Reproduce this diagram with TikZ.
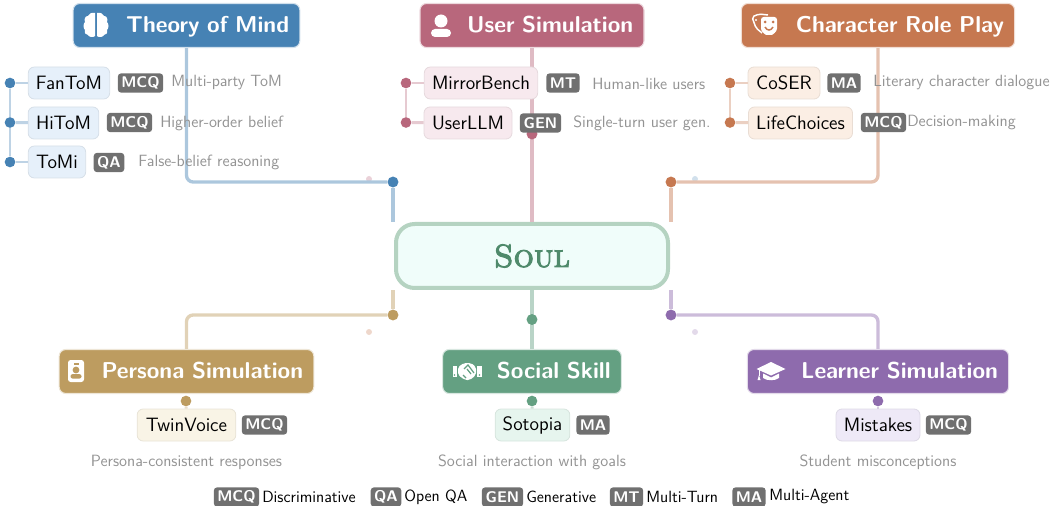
\documentclass[tikz,border=0pt]{standalone}
\usepackage{fontspec}
\usetikzlibrary{positioning}
\renewcommand{\familydefault}{\sfdefault}
\newfontfamily\soulfont[FakeBold=3]{Latin Modern Roman Caps}
\definecolor{tomblue}{RGB}{70,130,180}
\definecolor{userrose}{RGB}{184,103,124}
\definecolor{charclay}{RGB}{198,120,80}
\definecolor{personatan}{RGB}{189,156,96}
\definecolor{socialgreen}{RGB}{100,160,130}
\definecolor{learnerplum}{RGB}{142,107,173}
\definecolor{tomtint}{RGB}{230,240,250}
\definecolor{usertint}{RGB}{247,233,238}
\definecolor{chartint}{RGB}{251,238,228}
\definecolor{personatint}{RGB}{249,244,230}
\definecolor{socialtint}{RGB}{230,245,238}
\definecolor{learnertint}{RGB}{238,233,247}
\definecolor{soulring}{RGB}{181,211,193}
\definecolor{soulfill}{RGB}{240,253,250}
\definecolor{soulink}{RGB}{79,138,107}
\definecolor{tagbg}{RGB}{112,112,112}

\tikzset{
    brainhalf/.pic={
        \fill[white] (-1,-12) .. controls (-5,-13) and (-7,-11) .. (-8,-9) .. controls (-11,-9) and (-12,-6) .. (-11,-3) .. controls (-13,-1) and (-13,3) .. (-11,5) .. controls (-12,8) and (-10,10) .. (-8,10) .. controls (-7,12) and (-3,13) .. (-1,11) -- cycle;
    },
    usericon/.pic={
        \fill[white] (0,-5) circle[radius=6.5];
        \fill[white, rounded corners=3pt] (-10,11) -- (-10,3) -- (10,3) -- (10,11) -- cycle;
    },
    maskicon/.pic={
        \draw[white, line width=1.1pt, rounded corners=1.5pt] (-3,9) -- (-9,4) -- (-13,-7) -- (-6,-10) -- (3,-9);
        \fill[white] (-9,-4) circle[radius=1.2];
        \fill[white, rounded corners=2pt] (-4,-7) -- (12,-7) -- (12,2) .. controls (12,8) and (7,11) .. (4,11) .. controls (1,11) and (-4,8) .. (-4,2) -- cycle;
        \fill[charclay] (0,-2) circle[radius=1.5] (8,-2) circle[radius=1.5];
        \draw[charclay, line width=1.1pt] (0,3) .. controls (2,7) and (6,7) .. (8,3);
    },
    badgeicon/.pic={
        \fill[white, rounded corners=2pt] (-8,-11) rectangle (8,11);
        \fill[personatan] (-2.5,-8.5) rectangle (2.5,-6.5);
        \fill[personatan] (0,-1) circle[radius=3.4];
        \fill[personatan, rounded corners=1.5pt] (-5.5,7.5) -- (-5.5,3.2) -- (5.5,3.2) -- (5.5,7.5) -- cycle;
    },
    shakeicon/.pic={
        \fill[white] (-14.5,-6) rectangle (-10.5,5);
        \fill[white] (10,-6) rectangle (14.5,5);
        \fill[white, rounded corners=1.5pt] (-9,-5) -- (-3,-9) -- (4,-9) -- (9,-5) -- (9,3) -- (3,8) -- (-2,8) -- (-9,3) -- cycle;
        \draw[socialgreen, line width=0.9pt] (-3,-3) -- (1,-7) -- (7,1) (0,-3) -- (4,2) (-4,3) -- (-1,6);
        \fill[socialgreen] (-12.5,3) circle[radius=0.8] (12.5,3) circle[radius=0.8];
    },
    capicon/.pic={
        \fill[white] (-14.5,-3) -- (0,-10) -- (14.5,-3) -- (0,3.5) -- cycle;
        \fill[white] (-8,1.5) -- (0,5.5) -- (8,1.5) -- (8,6) .. controls (4,9) and (-4,9) .. (-8,6) -- cycle;
        \fill[white] (-12.5,-2) rectangle (-11.5,4);
        \fill[white] (-13.5,8) -- (-12,3) -- (-10.5,8) -- cycle;
    }
}

\begin{document}
\begin{tikzpicture}[x=0.75pt, y=-0.75pt,
        head/.style={rectangle, rounded corners=5pt, draw=#1!25, line width=0.8pt, fill=#1, text=white, minimum height=33pt, inner xsep=8pt, align=right, text height=13pt, text depth=2pt, font=\fontsize{17.2}{20}\selectfont\bfseries},
        item/.style={rectangle, rounded corners=4.5pt, draw=#1!93!black, line width=0.6pt, fill=#1, text=black, minimum height=24pt, inner xsep=0pt, font=\fontsize{14.5}{17}\selectfont},
        tag/.style={rectangle, rounded corners=2.5pt, fill=tagbg, text=white, minimum height=14.5pt, inner xsep=0pt, inner ysep=0pt, font=\fontsize{11.6}{13}\selectfont\bfseries},
        note/.style={text=gray!85, inner sep=0pt, font=\fontsize{12.2}{14}\selectfont},
        legend/.style={text=black, inner sep=0pt, font=\fontsize{12.2}{14}\selectfont},
        link/.style={draw=#1!45, line width=2.5pt, rounded corners=5pt},
        twig/.style={draw=#1!35, line width=2.2pt},
        hub/.style={circle, fill=#1, inner sep=0pt, minimum size=8.2pt},
        knob/.style={circle, fill=#1, inner sep=0pt, minimum size=8pt},
        spark/.style={circle, fill=#1, inner sep=0pt, minimum size=4.5pt}
    ]
    \useasboundingbox (0,0) rectangle (1054,506);

    % centre
    \node[rectangle, rounded corners=14pt, draw=soulring, line width=3pt, fill=soulfill, text=soulink, minimum width=204pt, minimum height=48pt, font=\soulfont\fontsize{24}{28}\selectfont] (soul) at (532,256) {Soul};

    % headers
    \node[head=tomblue, text width=154pt] (tom) at (186.5,25.5) {Theory of Mind};
    \node[head=userrose, text width=152pt] (user) at (532,25.5) {User Simulation};
    \node[head=charclay, text width=189pt] (char) at (878,25.5) {Character Role Play};
    \node[head=personatan, text width=175pt] (persona) at (186.5,371.5) {Persona Simulation};
    \node[head=socialgreen, text width=118pt] (social) at (532,371.5) {Social Skill};
    \node[head=learnerplum, text width=180pt] (learner) at (878,371.5) {Learner Simulation};

    \pic at (96,25) {brainhalf};
    \pic[xscale=-1] at (96,25) {brainhalf};
    \pic at (441,26) {usericon};
    \pic at (765,24) {maskicon};
    \pic at (76,371) {badgeicon};
    \pic at (467,372) {shakeicon};
    \pic at (771,372) {capicon};

    % hubs and main links
    \node[hub=tomblue] (tomhub) at (393,182) {};
    \node[hub=charclay] (charhub) at (671,182) {};
    \node[hub=personatan] (personahub) at (393,315) {};
    \node[hub=learnerplum] (learnerhub) at (671,315) {};
    \node[spark=userrose!30] (sparka) at (369,179) {};
    \node[spark=tomblue!25] (sparkb) at (695,179) {};
    \node[spark=charclay!30] (sparkc) at (369,332) {};
    \node[spark=learnerplum!25] (sparkd) at (695,332) {};

    \draw[link=tomblue] (tom.south) |- (tomhub);
    \draw[link=charclay] (char.south) |- (charhub);
    \draw[link=personatan] (persona.north) |- (personahub);
    \draw[link=learnerplum] (learner.north) |- (learnerhub);
    \draw[link=tomblue] (tomhub) -- (tomhub |- soul.north);
    \draw[link=charclay] (charhub) -- (charhub |- soul.north);
    \draw[link=personatan] (personahub) -- (personahub |- soul.south);
    \draw[link=learnerplum] (learnerhub) -- (learnerhub |- soul.south);
    \draw[link=userrose] (user.south) -- (soul.north);
    \draw[link=socialgreen] (soul.south) -- (social.north);
    \node[hub=userrose] (userhub) at (532,134) {};
    \node[hub=socialgreen] (socialhub) at (532,319.5) {};

    % theory of mind
    \node[knob=tomblue] (fantomdot) at (10,83) {};
    \node[knob=tomblue] (hitomdot) at (10,122.5) {};
    \node[knob=tomblue] (tomidot) at (10,162) {};
    \node[item=tomtint, minimum width=61pt] (fantom) at (69,83) {FanToM};
    \node[item=tomtint, minimum width=53pt] (hitom) at (63.5,123) {HiToM};
    \node[item=tomtint, minimum width=43pt] (tomi) at (57,162) {ToMi};
    \draw[twig=tomblue] (fantomdot) -- (hitomdot);
    \draw[twig=tomblue] (hitomdot) -- (tomidot);
    \draw[twig=tomblue] (fantomdot) -- (fantom);
    \draw[twig=tomblue] (hitomdot) -- (hitom);
    \draw[twig=tomblue] (tomidot) -- (tomi);
    \node[tag, minimum width=34pt] (fantomtag) at (140.5,83) {MCQ};
    \node[tag, minimum width=34pt] (hitomtag) at (129.5,122.5) {MCQ};
    \node[tag, minimum width=23pt] (tomitag) at (109,162.5) {QA};
    \node[note, anchor=west] (fantomnote) at (171,83) {Multi-party ToM};
    \node[note, anchor=west] (hitomnote) at (160,123) {Higher-order belief};
    \node[note, anchor=west] (tominote) at (138,162) {False-belief reasoning};

    % user simulation
    \node[knob=userrose] (mirrordot) at (406,83) {};
    \node[knob=userrose] (userllmdot) at (406,122.5) {};
    \node[item=usertint, minimum width=85pt] (mirror) at (481,83) {MirrorBench};
    \node[item=usertint, minimum width=66pt] (userllm) at (468,123) {UserLLM};
    \draw[twig=userrose] (mirrordot) -- (userllmdot);
    \draw[twig=userrose] (mirrordot) -- (mirror);
    \draw[twig=userrose] (userllmdot) -- (userllm);
    \node[tag, minimum width=25pt] (mirrortag) at (563,83) {MT};
    \node[tag, minimum width=31pt] (userllmtag) at (540.5,123) {GEN};
    \node[note, anchor=west] (mirrornote) at (592,84) {Human-like users};
    \node[note, anchor=west] (userllmnote) at (573,123) {Single-turn user gen.};

    % character role play
    \node[knob=charclay] (coserdot) at (730,83) {};
    \node[knob=charclay] (lifedot) at (730,122.5) {};
    \node[item=chartint, minimum width=54pt] (coser) at (784,83) {CoSER};
    \node[item=chartint, minimum width=78pt] (life) at (800.5,123) {LifeChoices};
    \draw[twig=charclay] (coserdot) -- (lifedot);
    \draw[twig=charclay] (coserdot) -- (coser);
    \draw[twig=charclay] (lifedot) -- (life);
    \node[tag, minimum width=25pt] (cosertag) at (844,83) {MA};
    \node[tag, minimum width=34pt] (lifetag) at (883.5,122.5) {MCQ};
    \node[note, anchor=west] (cosernote) at (873,83) {Literary character dialogue};
    \node[note, anchor=west] (lifenote) at (907,123) {Decision-making};

    % persona simulation
    \node[knob=personatan] (twindot) at (186,401) {};
    \node[item=personatint, minimum width=74pt] (twin) at (186.5,425) {TwinVoice};
    \draw[twig=personatan] (twindot) -- (twin);
    \node[tag, minimum width=34pt] (twintag) at (264.5,425) {MCQ};
    \node[note] (twinnote) at (186.5,462) {Persona-consistent responses};

    % social skill
    \node[knob=socialgreen] (sotopiadot) at (532,401) {};
    \node[item=socialtint, minimum width=56pt] (sotopia) at (532.5,425) {Sotopia};
    \draw[twig=socialgreen] (sotopiadot) -- (sotopia);
    \node[tag, minimum width=25pt] (sotopiatag) at (593,425) {MA};
    \node[note] (sotopianote) at (532,462) {Social interaction with goals};

    % learner simulation
    \node[knob=learnerplum] (mistakesdot) at (878,401) {};
    \node[item=learnertint, minimum width=63pt] (mistakes) at (878,425) {Mistakes};
    \draw[twig=learnerplum] (mistakesdot) -- (mistakes);
    \node[tag, minimum width=34pt] (mistakestag) at (948.5,425) {MCQ};
    \node[note] (mistakesnote) at (878,462) {Student misconceptions};

    % legend
    \node[tag, minimum width=34pt] (keymcq) at (236.5,497) {MCQ};
    \node[legend, anchor=west] (keymcqtext) at (262,497) {Discriminative};
    \node[tag, minimum width=23pt] (keyqa) at (386,497) {QA};
    \node[legend, anchor=west] (keyqatext) at (404,497) {Open QA};
    \node[tag, minimum width=31pt] (keygen) at (502.5,497) {GEN};
    \node[legend, anchor=west] (keygentext) at (526,497) {Generative};
    \node[tag, minimum width=25pt] (keymt) at (626.5,497) {MT};
    \node[legend, anchor=west] (keymttext) at (646,497) {Multi-Turn};
    \node[tag, minimum width=25pt] (keyma) at (749,497) {MA};
    \node[legend, anchor=west] (keymatext) at (769,497) {Multi-Agent};
\end{tikzpicture}
\end{document}
